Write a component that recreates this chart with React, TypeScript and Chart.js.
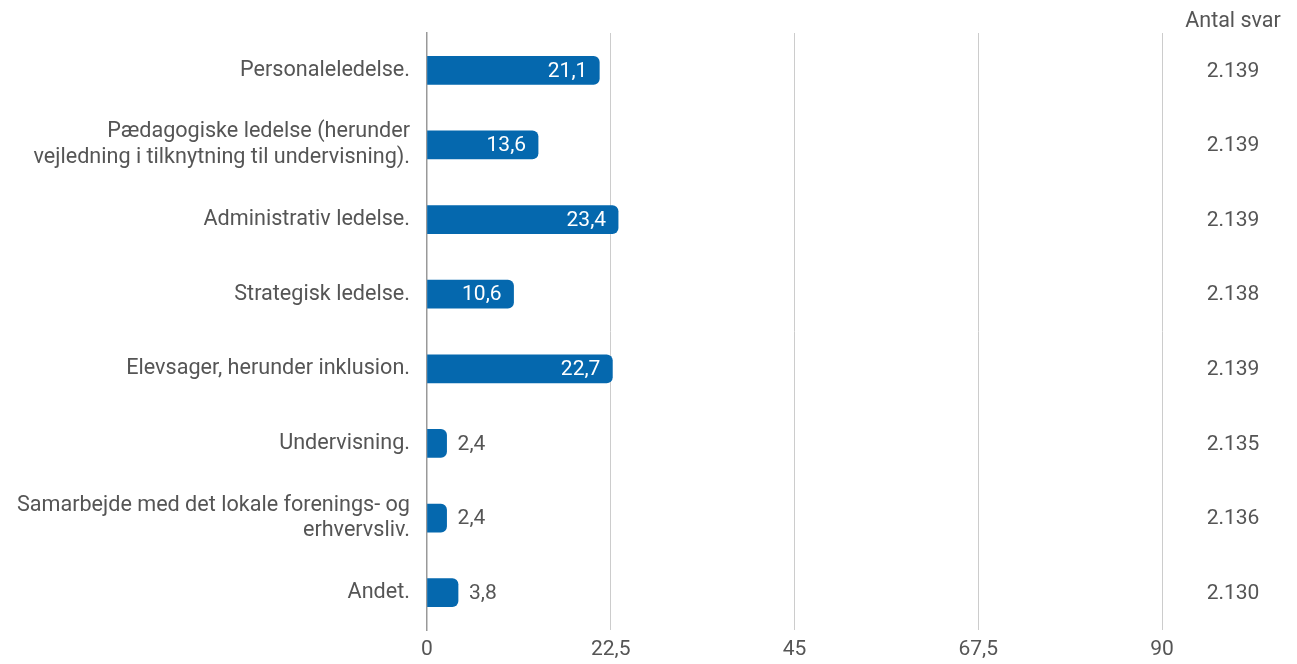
import React, { useEffect, useRef } from "react";
import { Chart, registerables } from "chart.js";

Chart.register(...registerables);

const categories: (string | string[])[] = [
  "Personaleledelse.",
  ["Pædagogiske ledelse (herunder", "vejledning i tilknytning til undervisning)."],
  "Administrativ ledelse.",
  "Strategisk ledelse.",
  "Elevsager, herunder inklusion.",
  "Undervisning.",
  ["Samarbejde med det lokale forenings- og", "erhvervsliv."],
  "Andet.",
];
const values: number[] = [21.1, 13.6, 23.4, 10.6, 22.7, 2.4, 2.4, 3.8];
const counts: number[] = [2139, 2139, 2139, 2138, 2139, 2135, 2136, 2130];
const countHeader = "Antal svar";
const xTicks: number[] = [0, 22.5, 45, 67.5, 90];

const FONT = "Roboto";
const GRAY = "#555555";
const BLUE = "#0568ae";

const fmtNum = (v: number) => String(v).replace(".", ",");
const fmtCount = (v: number) => String(v).replace(/\B(?=(\d{3})+(?!\d))/g, ".");

const overlayPlugin = {
  id: "overlay",
  afterDatasetsDraw(chart: any) {
    const ctx = chart.ctx;
    const meta = chart.getDatasetMeta(0);
    const yScale = chart.scales.y;
    ctx.save();
    ctx.font = `21px ${FONT}`;
    ctx.textBaseline = "middle";
    meta.data.forEach((bar: any, i: number) => {
      const v = values[i];
      const label = fmtNum(v);
      if (v > 6) {
        ctx.fillStyle = "#ffffff";
        ctx.textAlign = "right";
        ctx.fillText(label, bar.x - 12, bar.y + 1);
      } else {
        ctx.fillStyle = GRAY;
        ctx.textAlign = "left";
        ctx.fillText(label, bar.x + 11, bar.y + 1);
      }
    });
    const cx = 1233;
    ctx.fillStyle = GRAY;
    ctx.textAlign = "center";
    ctx.font = `21.5px ${FONT}`;
    ctx.fillText(countHeader, cx, 22);
    ctx.font = `21px ${FONT}`;
    counts.forEach((c, i) => {
      const y = yScale.getPixelForValue(i);
      ctx.fillText(fmtCount(c), cx, y + 1);
    });
    ctx.restore();
  },
};

export default function App() {
  const ref = useRef<HTMLCanvasElement | null>(null);
  useEffect(() => {
    if (!ref.current) return;
    const chart = new Chart(ref.current, {
      type: "bar",
      data: {
        labels: categories as any,
        datasets: [
          {
            data: values,
            backgroundColor: BLUE,
            borderRadius: 6,
            barThickness: 28,
          },
        ],
      },
      options: {
        indexAxis: "y",
        responsive: false,
        animation: false,
        layout: { padding: { top: 33, right: 135, bottom: 0, left: 0 } },
        plugins: { legend: { display: false }, tooltip: { enabled: false } },
        scales: {
          x: {
            min: 0,
            max: 90,
            afterBuildTicks: (scale: any) => {
              scale.ticks = xTicks.map((v) => ({ value: v }));
            },
            afterFit: (scale: any) => {
              scale.height = 34;
            },
            grid: {
              drawTicks: false,
              color: (c: any) => (c.index === 0 ? "rgba(0,0,0,0)" : "#cccccc"),
              lineWidth: 1,
            },
            border: { display: false },
            ticks: {
              padding: 7,
              color: GRAY,
              font: { family: FONT, size: 21 },
              callback: (v: any) => fmtNum(Number(v)),
              maxRotation: 0,
              autoSkip: false,
            },
          },
          y: {
            afterFit: (scale: any) => {
              scale.width = 427;
            },
            grid: { display: false, drawTicks: false },
            border: { display: true, color: "#999999", width: 1.5 },
            ticks: {
              padding: 17,
              color: GRAY,
              font: { family: FONT, size: 21.6, lineHeight: 1.2 },
              autoSkip: false,
            },
          },
        },
      },
      plugins: [overlayPlugin],
    });
    return () => chart.destroy();
  }, []);
  return (
    <div style={{ position: "absolute", left: 0, top: 0, width: 1297, height: 664, background: "#fff" }}>
      <canvas ref={ref} width={1297} height={664} />
    </div>
  );
}
